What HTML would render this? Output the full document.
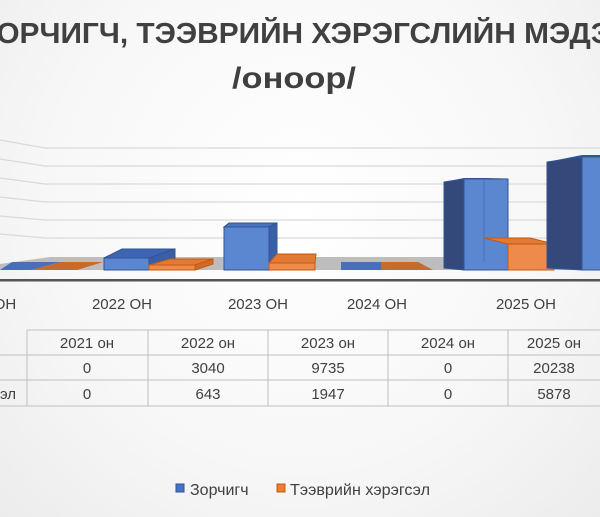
<!DOCTYPE html>
<html><head><meta charset="utf-8"><style>
html,body{margin:0;padding:0;width:600px;height:517px;overflow:hidden}
body{background:radial-gradient(ellipse at 50% 40%,#ffffff 0%,#f7f7f7 60%,#ececec 100%);font-family:"Liberation Sans","DejaVu Sans",sans-serif}
</style></head><body>
<svg width="600" height="517" viewBox="0 0 600 517" xmlns="http://www.w3.org/2000/svg" font-family="Liberation Sans, DejaVu Sans, sans-serif">
<text x="-22" y="43" font-size="29" font-weight="bold" fill="#404040" textLength="634" lengthAdjust="spacingAndGlyphs">ЗОРЧИГЧ, ТЭЭВРИЙН ХЭРЭГСЛИЙН МЭДЭ</text>
<text x="294" y="88" font-size="30" font-weight="bold" fill="#404040" text-anchor="middle" textLength="124" lengthAdjust="spacingAndGlyphs">/оноор/</text>
<g stroke="#d9d9d9" stroke-width="1.3" fill="none">
<polyline points="0,140 45,148 600,148"/>
<polyline points="0,159 45,166 600,166"/>
<polyline points="0,178 45,184 600,184"/>
<polyline points="0,197 45,202 600,202"/>
<polyline points="0,216 45,220 600,220"/>
<polyline points="0,234 45,238 600,238"/>
</g>
<polygon points="0,264 50,257 600,257 600,270 0,270" fill="#bdbdbd"/>
<rect x="0" y="279" width="600" height="2.5" fill="#555"/>
<polygon points="0,270 31,270 60,262 12,262" fill="#4a6fb5"/>
<polygon points="31,270 77,270 103,262 60,262" fill="#c76a2a"/>
<polygon points="104,258 122,249 175,249 149,258" fill="#3e66b0" stroke="#2f5597"/>
<polygon points="149,258 175,249 175,264 149,270" fill="#3b5fa6" stroke="#2f5597"/>
<rect x="104" y="258" width="45" height="12" fill="#5b86d0" stroke="#2f5597"/>
<polygon points="149,265 170,259 213,259 195,265" fill="#e07a35" stroke="#c55a11"/>
<polygon points="195,265 213,259 213,264 195,270" fill="#d06a28" stroke="#c55a11"/>
<rect x="149" y="265" width="46" height="5" fill="#ee8a4a" stroke="#c55a11"/>
<polygon points="224,227 229,223 277,223 269,227" fill="#4a72bd" stroke="#2f5597"/>
<polygon points="269,227 277,223 277,264 269,270" fill="#3b5fa6" stroke="#2f5597"/>
<rect x="224" y="227" width="45" height="43" fill="#5b86d0" stroke="#2f5597"/>
<polygon points="269,263 277,254 316,254 315,263" fill="#e07a35" stroke="#c55a11"/>
<rect x="269" y="263" width="46" height="7" fill="#ee8a4a" stroke="#c55a11"/>
<polygon points="341,270 389,270 381,262 341,262" fill="#4a6fb5"/>
<polygon points="381,270 433,270 418,262 381,262" fill="#c76a2a"/>
<polygon points="444,182 464,178 508,178 464,179" fill="#2f5597"/>
<polygon points="444,182 464,179 464,270 444,268" fill="#34497a" stroke="#2f5597"/>
<rect x="464" y="179" width="44" height="91" fill="#5b86d0" stroke="#2f5597"/>
<line x1="484" y1="180" x2="484" y2="262" stroke="#4a72bd"/>
<polygon points="508,244 484,238 530,238 554,244" fill="#e07a35" stroke="#c55a11"/>
<rect x="508" y="244" width="46" height="26" fill="#ee8a4a" stroke="#c55a11"/>
<polygon points="547,162 582,155 600,155 600,157 582,157" fill="#2f5597"/>
<polygon points="547,162 582,157 582,270 547,268" fill="#34497a" stroke="#2f5597"/>
<rect x="582" y="157" width="30" height="113" fill="#5b86d0" stroke="#2f5597"/>
<g font-size="15" fill="#404040" text-anchor="middle">
<text x="5" y="309">ОН</text>
<text x="122" y="309">2022 ОН</text>
<text x="258" y="309">2023 ОН</text>
<text x="377" y="309">2024 ОН</text>
<text x="526" y="309">2025 ОН</text>
</g>
<g stroke="#bfbfbf" stroke-width="1" fill="none">
<line x1="27" y1="330" x2="600" y2="330"/>
<line x1="0" y1="355" x2="600" y2="355"/>
<line x1="0" y1="380" x2="600" y2="380"/>
<line x1="0" y1="406" x2="600" y2="406"/>
<line x1="27" y1="330" x2="27" y2="406"/>
<line x1="148" y1="330" x2="148" y2="406"/>
<line x1="268" y1="330" x2="268" y2="406"/>
<line x1="388" y1="330" x2="388" y2="406"/>
<line x1="508" y1="330" x2="508" y2="406"/>
</g>
<g font-size="15" fill="#404040" text-anchor="middle">
<text x="87" y="348">2021 он</text><text x="208" y="348">2022 он</text><text x="328" y="348">2023 он</text><text x="448" y="348">2024 он</text><text x="554" y="348">2025 он</text>
<text x="87" y="373">0</text><text x="208" y="373">3040</text><text x="328" y="373">9735</text><text x="448" y="373">0</text><text x="554" y="373">20238</text>
<text x="87" y="399">0</text><text x="208" y="399">643</text><text x="328" y="399">1947</text><text x="448" y="399">0</text><text x="554" y="399">5878</text>
<text x="8" y="399">эл</text>
</g>
<rect x="176" y="484" width="8" height="8" fill="#4472c4" stroke="#2f5597"/>
<text x="190" y="495" font-size="16" fill="#404040">Зорчигч</text>
<rect x="277" y="484" width="8" height="8" fill="#ed7d31" stroke="#c55a11"/>
<text x="290" y="495" font-size="16" fill="#404040" textLength="140" lengthAdjust="spacingAndGlyphs">Тээврийн хэрэгсэл</text>
</svg>
</body></html>
